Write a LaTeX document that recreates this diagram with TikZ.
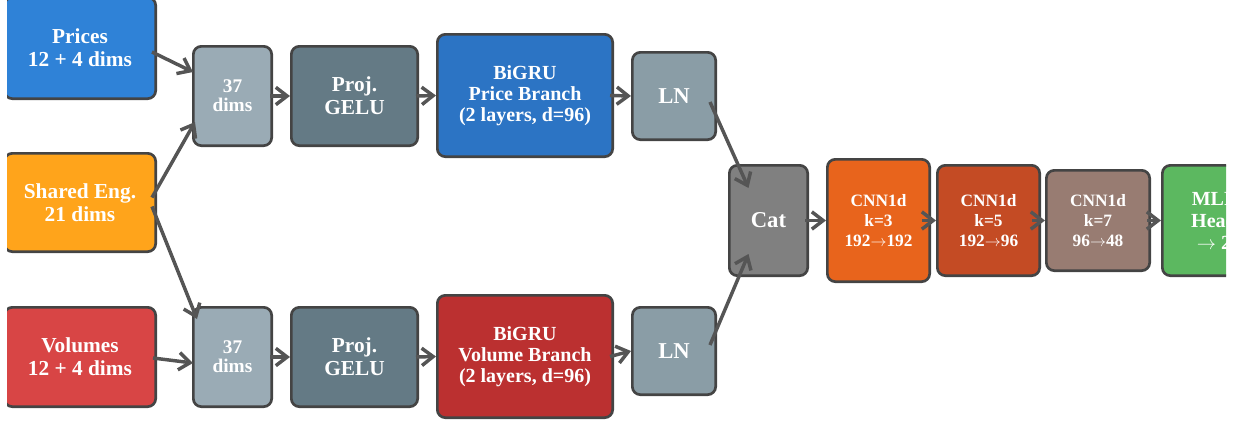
\documentclass[tikz,border=0pt]{standalone}
\usepackage{fontspec}
\setmainfont{Liberation Serif}
\usepackage{xcolor}
\usetikzlibrary{arrows.meta,calc}

\definecolor{bord}{HTML}{444444}
\definecolor{arrgray}{HTML}{555555}
\definecolor{cprice}{HTML}{2F82D7}
\definecolor{cshared}{HTML}{FFA41B}
\definecolor{cvol}{HTML}{D84545}
\definecolor{cdims}{HTML}{9AABB5}
\definecolor{cproj}{HTML}{647A85}
\definecolor{cgruP}{HTML}{2C74C4}
\definecolor{cgruV}{HTML}{BB3030}
\definecolor{cln}{HTML}{8A9DA6}
\definecolor{ccat}{HTML}{808080}
\definecolor{ckA}{HTML}{E8641C}
\definecolor{ckB}{HTML}{C44B24}
\definecolor{ckC}{HTML}{987C72}
\definecolor{cmlp}{HTML}{5CB860}

\begin{document}
\begin{tikzpicture}[x=0.75pt,y=-0.75pt,
    box/.style={draw=bord,line width=2pt,rounded corners=6pt,text=white,align=center,inner sep=0pt},
    big/.style={font=\fontsize{16}{17.25}\selectfont\bfseries},
    mid/.style={font=\fontsize{15}{15.75}\selectfont\bfseries},
    sml/.style={font=\fontsize{14.5}{14.5}\selectfont\bfseries},
    lbl/.style={font=\fontsize{17}{18}\selectfont\bfseries},
    cnn/.style={font=\fontsize{13}{15}\selectfont\bfseries},
    arr/.style={draw=arrgray,line width=2.6pt,-{Straight Barb[length=8.5pt,width=13pt]}}]

    \useasboundingbox (0,0) rectangle (1239,425);
    \clip (7,0) rectangle (1226,425);

    % inputs
    \node[box,fill=cprice,big,minimum width=113.5pt,minimum height=76pt] (pr) at (80,48) {Prices\\12 + 4 dims};
    \node[box,fill=cshared,big,minimum width=113.5pt,minimum height=73.75pt] (sh) at (80,202.5) {Shared Eng.\\21 dims};
    \node[box,fill=cvol,big,minimum width=113.5pt,minimum height=74.5pt] (vo) at (80,357) {Volumes\\12 + 4 dims};

    % price branch
    \node[box,fill=cdims,sml,minimum width=58.75pt,minimum height=74.5pt] (da) at (232.5,96) {37\\dims};
    \node[box,fill=cproj,big,minimum width=94.75pt,minimum height=74.5pt] (pa) at (354.5,96) {Proj.\\GELU};
    \node[box,fill=cgruP,mid,minimum width=131.5pt,minimum height=91.75pt] (ga) at (525,95.5) {BiGRU\\Price Branch\\(2 layers, d=96)};
    \node[box,fill=cln,lbl,minimum width=62.5pt,minimum height=65.5pt] (la) at (674,96) {LN};

    % volume branch
    \node[box,fill=cdims,sml,minimum width=58.75pt,minimum height=74.5pt] (db) at (232.5,357) {37\\dims};
    \node[box,fill=cproj,big,minimum width=94.75pt,minimum height=74.5pt] (pb) at (354.5,357) {Proj.\\GELU};
    \node[box,fill=cgruV,mid,minimum width=131.5pt,minimum height=91.75pt] (gb) at (525,356.5) {BiGRU\\Volume Branch\\(2 layers, d=96)};
    \node[box,fill=cln,lbl,minimum width=62.5pt,minimum height=65.5pt] (lb) at (674,351) {LN};

    % head
    \node[box,fill=ccat,lbl,minimum width=58.75pt,minimum height=82.75pt] (cat) at (768.5,220.5) {Cat};
    \node[box,fill=ckA,cnn,minimum width=76.75pt,minimum height=91.75pt] (ka) at (878.5,220.5) {CNN1d\\k=3\\192$\rightarrow$192};
    \node[box,fill=ckB,cnn,minimum width=76.75pt,minimum height=82.75pt] (kb) at (988.5,220.5) {CNN1d\\k=5\\192$\rightarrow$96};
    \node[box,fill=ckC,cnn,minimum width=77.5pt,minimum height=75.25pt] (kc) at (1098,220.5) {CNN1d\\k=7\\96$\rightarrow$48};
    \node[box,fill=cmlp,font=\fontsize{15}{16.5}\selectfont\bfseries,minimum width=77.5pt,minimum height=82.75pt] (mlp) at (1214,220.5) {MLP\\Head\\$\rightarrow$ 2};

    \draw[arr] ($(pr.east)+(-5,4)$) -- ($(da.west)+(1,-24)$);
    \draw[arr] ($(sh.east)+(-5,-5)$) -- ($(da.west)+(3,26)$);
    \draw[arr] ($(sh.east)+(-5,4)$) -- ($(db.west)+(5,-38)$);
    \draw[arr] ($(vo.east)+(-4,1)$) -- ($(db.west)+(1,6)$);
    \draw[arr] ($(da.east)+(-3,0)$) -- (pa.west);
    \draw[arr] ($(db.east)+(-3,0)$) -- (pb.west);
    \draw[arr] ($(pa.east)+(-3,0)$) -- (ga.west);
    \draw[arr] ($(pb.east)+(-3,0)$) -- (gb.west);
    \draw[arr] ($(ga.east)+(-4,0)$) -- (la.west);
    \draw[arr] ($(gb.east)+(-4,0)$) -- (lb.west);
    \draw[arr] ($(la.east)+(-7,6)$) -- ($(cat.north)+(-20,24)$);
    \draw[arr] ($(lb.east)+(-7,-6)$) -- ($(cat.south)+(-20,-23)$);
    \draw[arr] ($(cat.east)+(-4,0)$) -- (ka.west);
    \draw[arr] ($(ka.east)+(-9,0)$) -- (kb.west);
    \draw[arr] ($(kb.east)+(-9,0)$) -- (kc.west);
    \draw[arr] ($(kc.east)+(-4,0)$) -- (mlp.west);

\end{tikzpicture}
\end{document}
